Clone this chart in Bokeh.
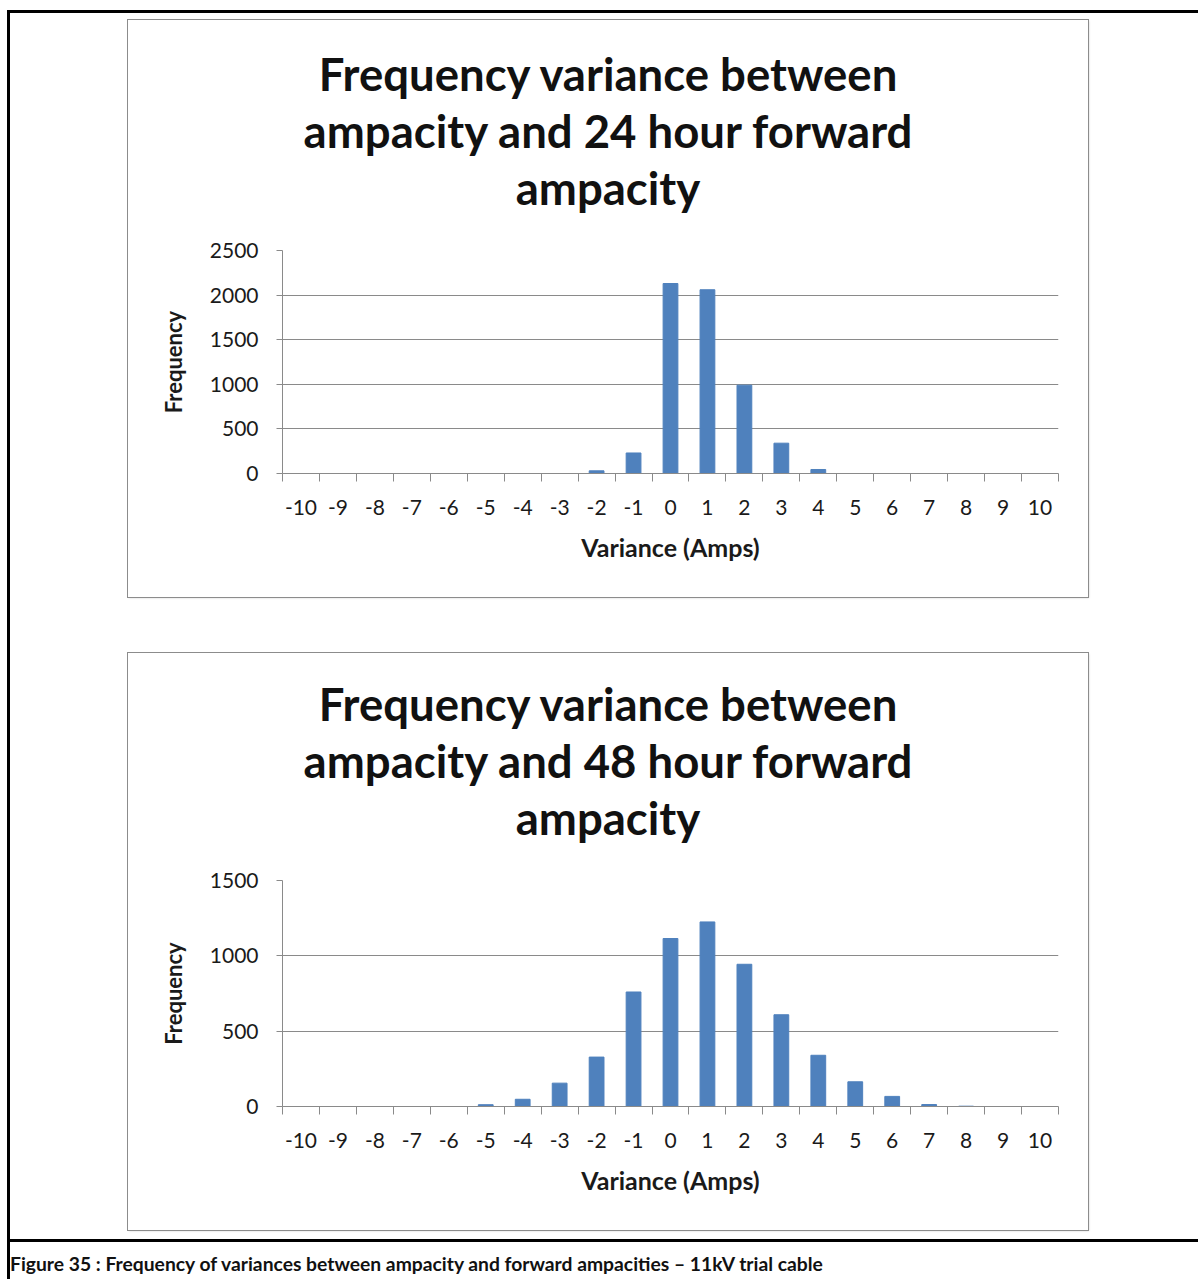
from bokeh.plotting import figure
from bokeh.models import FixedTicker, Div
from bokeh.layouts import column
from bokeh.embed import file_html
from bokeh.resources import INLINE

# ---- data ----
variance = list(range(-10, 11))
freq_24h = [0, 0, 0, 0, 0, 0, 0, 0, 30, 230, 2130, 2060, 990, 340, 45, 0, 0, 0, 0, 0, 0]
freq_48h = [0, 0, 0, 0, 0, 12, 48, 155, 328, 760, 1115, 1225, 944, 609, 340, 164, 67, 13, 2, 0, 0]
title_24h = ["Frequency variance between", "ampacity and 24 hour forward", "ampacity"]
title_48h = ["Frequency variance between", "ampacity and 48 hour forward", "ampacity"]
y_ticks_24h = [0, 500, 1000, 1500, 2000, 2500]
y_ticks_48h = [0, 500, 1000, 1500]
x_label = "Variance (Amps)"
y_label = "Frequency"
caption = "Figure 35 : Frequency of variances between ampacity and forward ampacities \u2013 11kV trial cable"

BAR = "#4F81BD"
GRID = "#8a8a8a"
FONT = "Lato"
TITLE_H = 195


def make_chart(values, title_lines, yticks, top_border, margin_top, title_pad):
    head = Div(text="<br>".join(title_lines), width=960, height=TITLE_H, margin=0,
               styles={"font-family": FONT, "font-weight": "bold", "font-size": "45.5px",
                       "line-height": "57px", "text-align": "center", "color": "#111111",
                       "padding-top": f"{title_pad}px", "box-sizing": "border-box",
                       "white-space": "nowrap", "background": "white"})
    p = figure(width=960, height=577 - TITLE_H, output_backend="svg", toolbar_location=None,
               x_range=(-10.5, 10.5), y_range=(0, yticks[-1]),
               min_border_left=154, min_border_right=30,
               min_border_top=top_border - TITLE_H, min_border_bottom=124,
               margin=0)
    p.title = None
    p.vbar(x=variance, top=values, width=0.4, color=BAR, line_color=BAR)

    p.outline_line_color = None
    p.background_fill_color = "white"
    p.border_fill_color = "white"

    p.xgrid.grid_line_color = None
    p.ygrid.ticker = FixedTicker(ticks=yticks)
    p.ygrid.grid_line_color = GRID
    p.ygrid.grid_line_width = 1

    p.xaxis.ticker = FixedTicker(ticks=variance,
                                 minor_ticks=[v + 0.5 for v in range(-11, 11)])
    p.xaxis.major_label_overrides = {v: str(v) for v in variance}
    p.xaxis.major_tick_line_color = None
    p.xaxis.major_tick_out = 0
    p.xaxis.major_tick_in = 0
    p.xaxis.minor_tick_line_color = GRID
    p.xaxis.minor_tick_out = 8
    p.xaxis.minor_tick_in = 0
    p.xaxis.axis_line_color = GRID
    p.xaxis.major_label_standoff = 18
    p.xaxis.axis_label = x_label
    p.xaxis.axis_label_standoff = 14

    p.yaxis.ticker = FixedTicker(ticks=yticks)
    p.yaxis.minor_tick_line_color = None
    p.yaxis.major_tick_line_color = GRID
    p.yaxis.major_tick_out = 6
    p.yaxis.major_tick_in = 0
    p.yaxis.axis_line_color = GRID
    p.yaxis.major_label_standoff = 18
    p.yaxis.axis_label = y_label
    p.yaxis.axis_label_standoff = 20

    for ax in (p.xaxis, p.yaxis):
        ax.major_label_text_font = FONT
        ax.major_label_text_font_size = "21px"
        ax.major_label_text_color = "#1a1a1a"
        ax.axis_label_text_font = FONT
        ax.axis_label_text_font_style = "bold"
        ax.axis_label_text_color = "#1a1a1a"
    p.xaxis.axis_label_text_font_size = "25px"
    p.yaxis.axis_label_text_font_size = "22px"
    p.yaxis.major_label_orientation = "horizontal"

    box = column(head, p, margin=(margin_top, 0, 0, 118), spacing=0,
                 styles={"outline": "1px solid #8c8c8c", "box-shadow": "1px 1px 2px #d0d0d0",
                         "background": "white"})
    return box


c1 = make_chart(freq_24h, title_24h, y_ticks_24h, 230, 7, 25)
c2 = make_chart(freq_48h, title_48h, y_ticks_48h, 227, 56, 22)

cap = Div(text=caption, width=1188, height=40, margin=(9, 0, 0, 0),
          styles={"border-top": "3px solid black", "font-family": FONT,
                  "font-weight": "bold", "font-size": "19.3px", "color": "#111",
                  "padding-top": "8px", "padding-left": "0px", "box-sizing": "border-box",
                  "white-space": "nowrap"})

root = column(c1, c2, cap, margin=(10, 0, 0, 7),
              styles={"border-left": "3px solid black", "border-top": "3px solid black"})

open("out.html", "w").write(file_html(root, INLINE))
